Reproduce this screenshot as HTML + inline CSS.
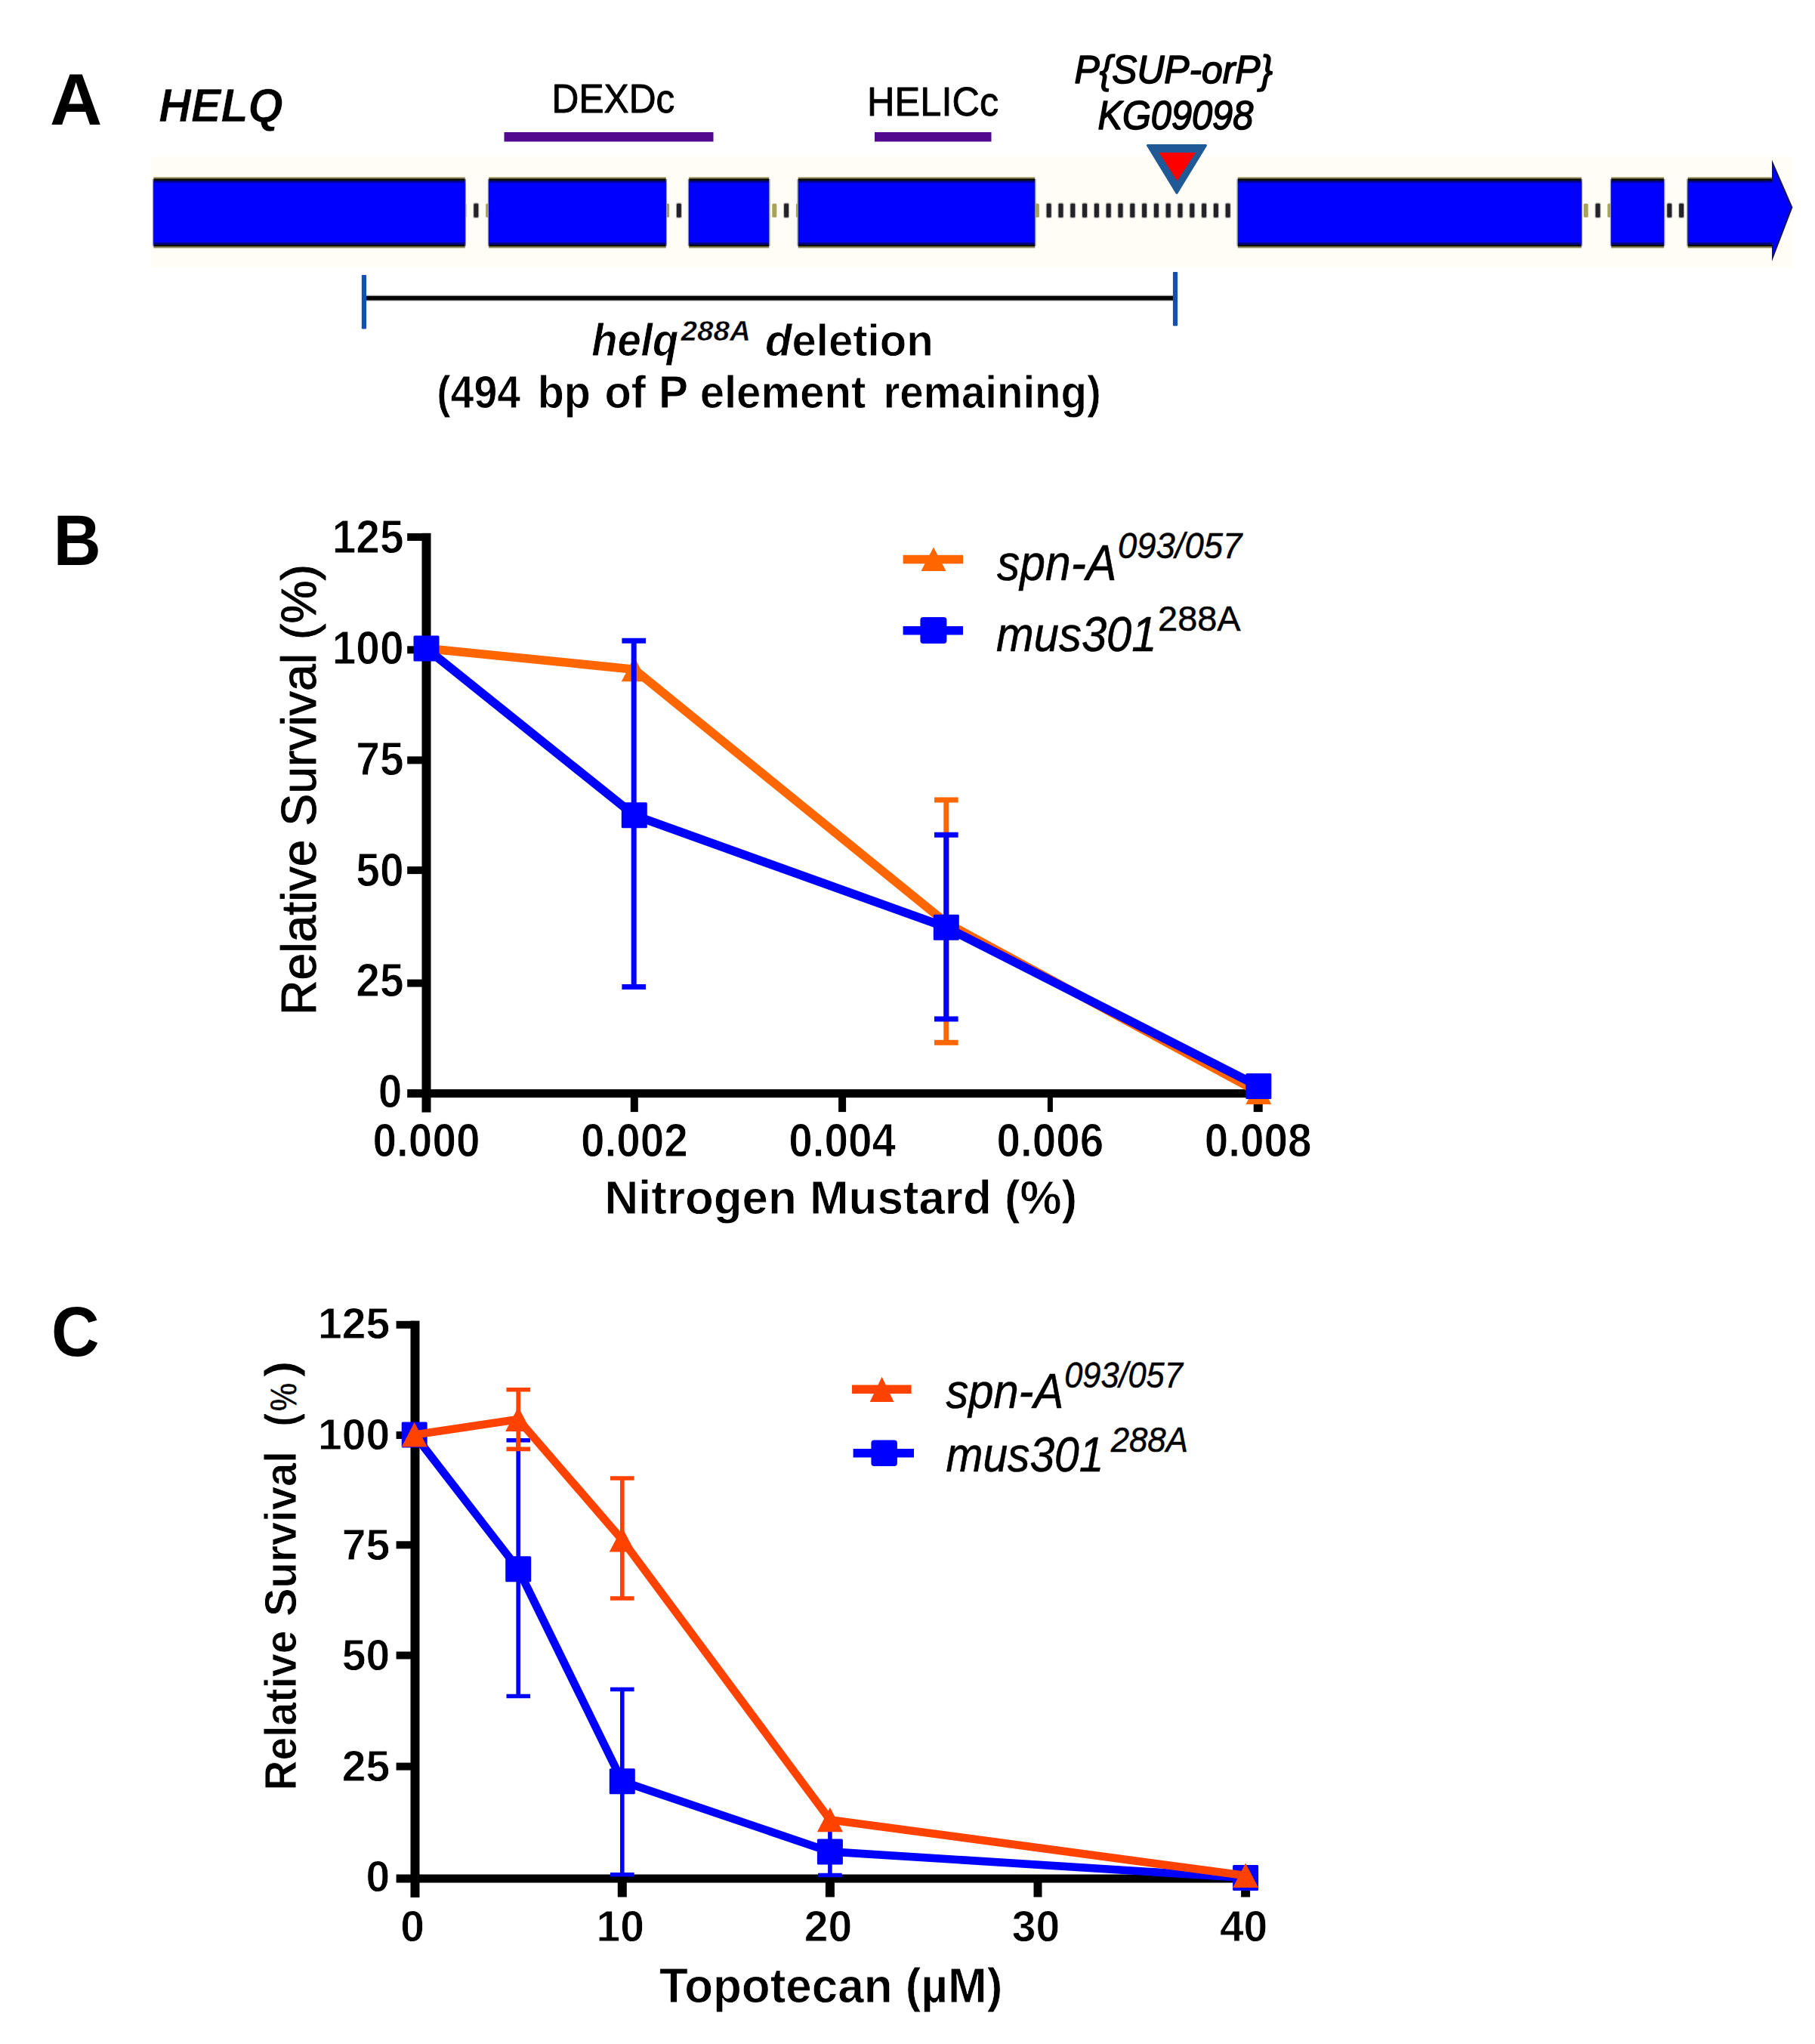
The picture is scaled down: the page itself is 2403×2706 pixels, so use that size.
<!DOCTYPE html>
<html lang="en"><head><meta charset="utf-8"><title>Figure</title>
<style>
html,body{margin:0;padding:0;background:#fff;}
body{width:2403px;height:2706px;overflow:hidden;}
svg{display:block;font-family:"Liberation Sans", sans-serif;}
</style></head><body>
<svg width="2403" height="2706" viewBox="0 0 2403 2706">
<rect width="2403" height="2706" fill="#fff"/>
<g id="panelA">
<rect x="200" y="207" width="2174" height="146.5" fill="#fffdf6"/>
<rect x="611.5" y="269.4" width="6.0" height="18.4" rx="1.5" fill="#a8a25c"/>
<rect x="627.3" y="269.4" width="6.0" height="18.4" rx="1.5" fill="#26262a"/>
<rect x="626.3" y="268.2" width="8.0" height="20.8" rx="2" fill="#1c1c20" fill-opacity="0.28"/>
<rect x="643.1" y="269.4" width="6.0" height="18.4" rx="1.5" fill="#a8a25c"/>
<rect x="880.1" y="269.4" width="6.0" height="18.4" rx="1.5" fill="#a8a25c"/>
<rect x="895.9" y="269.4" width="6.0" height="18.4" rx="1.5" fill="#26262a"/>
<rect x="894.9" y="268.2" width="8.0" height="20.8" rx="2" fill="#1c1c20" fill-opacity="0.28"/>
<rect x="911.7" y="269.4" width="6.0" height="18.4" rx="1.5" fill="#a8a25c"/>
<rect x="1022.3" y="269.4" width="6.0" height="18.4" rx="1.5" fill="#a8a25c"/>
<rect x="1038.1" y="269.4" width="6.0" height="18.4" rx="1.5" fill="#26262a"/>
<rect x="1037.1" y="268.2" width="8.0" height="20.8" rx="2" fill="#1c1c20" fill-opacity="0.28"/>
<rect x="1053.9" y="269.4" width="6.0" height="18.4" rx="1.5" fill="#a8a25c"/>
<rect x="1369.9" y="269.4" width="6.0" height="18.4" rx="1.5" fill="#a8a25c"/>
<rect x="1385.7" y="269.4" width="6.0" height="18.4" rx="1.5" fill="#26262a"/>
<rect x="1384.7" y="268.2" width="8.0" height="20.8" rx="2" fill="#1c1c20" fill-opacity="0.28"/>
<rect x="1401.5" y="269.4" width="6.0" height="18.4" rx="1.5" fill="#26262a"/>
<rect x="1400.5" y="268.2" width="8.0" height="20.8" rx="2" fill="#1c1c20" fill-opacity="0.28"/>
<rect x="1417.3" y="269.4" width="6.0" height="18.4" rx="1.5" fill="#26262a"/>
<rect x="1416.3" y="268.2" width="8.0" height="20.8" rx="2" fill="#1c1c20" fill-opacity="0.28"/>
<rect x="1433.1" y="269.4" width="6.0" height="18.4" rx="1.5" fill="#26262a"/>
<rect x="1432.1" y="268.2" width="8.0" height="20.8" rx="2" fill="#1c1c20" fill-opacity="0.28"/>
<rect x="1448.9" y="269.4" width="6.0" height="18.4" rx="1.5" fill="#26262a"/>
<rect x="1447.9" y="268.2" width="8.0" height="20.8" rx="2" fill="#1c1c20" fill-opacity="0.28"/>
<rect x="1464.7" y="269.4" width="6.0" height="18.4" rx="1.5" fill="#26262a"/>
<rect x="1463.7" y="268.2" width="8.0" height="20.8" rx="2" fill="#1c1c20" fill-opacity="0.28"/>
<rect x="1480.5" y="269.4" width="6.0" height="18.4" rx="1.5" fill="#26262a"/>
<rect x="1479.5" y="268.2" width="8.0" height="20.8" rx="2" fill="#1c1c20" fill-opacity="0.28"/>
<rect x="1496.3" y="269.4" width="6.0" height="18.4" rx="1.5" fill="#26262a"/>
<rect x="1495.3" y="268.2" width="8.0" height="20.8" rx="2" fill="#1c1c20" fill-opacity="0.28"/>
<rect x="1512.1" y="269.4" width="6.0" height="18.4" rx="1.5" fill="#26262a"/>
<rect x="1511.1" y="268.2" width="8.0" height="20.8" rx="2" fill="#1c1c20" fill-opacity="0.28"/>
<rect x="1527.9" y="269.4" width="6.0" height="18.4" rx="1.5" fill="#26262a"/>
<rect x="1526.9" y="268.2" width="8.0" height="20.8" rx="2" fill="#1c1c20" fill-opacity="0.28"/>
<rect x="1543.7" y="269.4" width="6.0" height="18.4" rx="1.5" fill="#26262a"/>
<rect x="1542.7" y="268.2" width="8.0" height="20.8" rx="2" fill="#1c1c20" fill-opacity="0.28"/>
<rect x="1559.5" y="269.4" width="6.0" height="18.4" rx="1.5" fill="#26262a"/>
<rect x="1558.5" y="268.2" width="8.0" height="20.8" rx="2" fill="#1c1c20" fill-opacity="0.28"/>
<rect x="1575.3" y="269.4" width="6.0" height="18.4" rx="1.5" fill="#26262a"/>
<rect x="1574.3" y="268.2" width="8.0" height="20.8" rx="2" fill="#1c1c20" fill-opacity="0.28"/>
<rect x="1591.1" y="269.4" width="6.0" height="18.4" rx="1.5" fill="#26262a"/>
<rect x="1590.1" y="268.2" width="8.0" height="20.8" rx="2" fill="#1c1c20" fill-opacity="0.28"/>
<rect x="1606.9" y="269.4" width="6.0" height="18.4" rx="1.5" fill="#26262a"/>
<rect x="1605.9" y="268.2" width="8.0" height="20.8" rx="2" fill="#1c1c20" fill-opacity="0.28"/>
<rect x="1622.7" y="269.4" width="6.0" height="18.4" rx="1.5" fill="#26262a"/>
<rect x="1621.7" y="268.2" width="8.0" height="20.8" rx="2" fill="#1c1c20" fill-opacity="0.28"/>
<rect x="1638.5" y="269.4" width="6.0" height="18.4" rx="1.5" fill="#a8a25c"/>
<rect x="2096.7" y="269.4" width="6.0" height="18.4" rx="1.5" fill="#a8a25c"/>
<rect x="2112.5" y="269.4" width="6.0" height="18.4" rx="1.5" fill="#26262a"/>
<rect x="2111.5" y="268.2" width="8.0" height="20.8" rx="2" fill="#1c1c20" fill-opacity="0.28"/>
<rect x="2128.3" y="269.4" width="6.0" height="18.4" rx="1.5" fill="#a8a25c"/>
<rect x="2207.3" y="269.4" width="6.0" height="18.4" rx="1.5" fill="#26262a"/>
<rect x="2206.3" y="268.2" width="8.0" height="20.8" rx="2" fill="#1c1c20" fill-opacity="0.28"/>
<rect x="2223.1" y="269.4" width="6.0" height="18.4" rx="1.5" fill="#26262a"/>
<rect x="2222.1" y="268.2" width="8.0" height="20.8" rx="2" fill="#1c1c20" fill-opacity="0.28"/>
<rect x="202.0" y="237" width="415.0" height="88.7" fill="#8f8fd4"/>
<rect x="203.3" y="234.6" width="412.4" height="93.8" fill="#8d8856"/>
<rect x="203.6" y="236.6" width="411.8" height="89.6" fill="#0a0a08"/>
<rect x="203.6" y="239.2" width="411.8" height="84.6" fill="#00008c"/>
<rect x="203.6" y="241.7" width="411.8" height="79.2" fill="#0000ff"/>
<rect x="645.8" y="237" width="237.3" height="88.7" fill="#8f8fd4"/>
<rect x="647.1" y="234.6" width="234.7" height="93.8" fill="#8d8856"/>
<rect x="647.4" y="236.6" width="234.1" height="89.6" fill="#0a0a08"/>
<rect x="647.4" y="239.2" width="234.1" height="84.6" fill="#00008c"/>
<rect x="647.4" y="241.7" width="234.1" height="79.2" fill="#0000ff"/>
<rect x="910.8" y="237" width="108.8" height="88.7" fill="#8f8fd4"/>
<rect x="912.1" y="234.6" width="106.2" height="93.8" fill="#8d8856"/>
<rect x="912.4" y="236.6" width="105.6" height="89.6" fill="#0a0a08"/>
<rect x="912.4" y="239.2" width="105.6" height="84.6" fill="#00008c"/>
<rect x="912.4" y="241.7" width="105.6" height="79.2" fill="#0000ff"/>
<rect x="1055.4" y="237" width="316.2" height="88.7" fill="#8f8fd4"/>
<rect x="1056.7" y="234.6" width="313.6" height="93.8" fill="#8d8856"/>
<rect x="1057.0" y="236.6" width="313.0" height="89.6" fill="#0a0a08"/>
<rect x="1057.0" y="239.2" width="313.0" height="84.6" fill="#00008c"/>
<rect x="1057.0" y="241.7" width="313.0" height="79.2" fill="#0000ff"/>
<rect x="1637.4" y="237" width="457.7" height="88.7" fill="#8f8fd4"/>
<rect x="1638.7" y="234.6" width="455.1" height="93.8" fill="#8d8856"/>
<rect x="1639.0" y="236.6" width="454.5" height="89.6" fill="#0a0a08"/>
<rect x="1639.0" y="239.2" width="454.5" height="84.6" fill="#00008c"/>
<rect x="1639.0" y="241.7" width="454.5" height="79.2" fill="#0000ff"/>
<rect x="2131.8" y="237" width="72.6" height="88.7" fill="#8f8fd4"/>
<rect x="2133.1" y="234.6" width="70.0" height="93.8" fill="#8d8856"/>
<rect x="2133.4" y="236.6" width="69.4" height="89.6" fill="#0a0a08"/>
<rect x="2133.4" y="239.2" width="69.4" height="84.6" fill="#00008c"/>
<rect x="2133.4" y="241.7" width="69.4" height="79.2" fill="#0000ff"/>
<rect x="2233.2" y="237" width="115.9" height="88.7" fill="#8f8fd4"/>
<rect x="2234.5" y="234.6" width="113.3" height="93.8" fill="#8d8856"/>
<rect x="2234.8" y="236.6" width="112.7" height="89.6" fill="#0a0a08"/>
<rect x="2234.8" y="239.2" width="112.7" height="84.6" fill="#00008c"/>
<rect x="2234.8" y="241.7" width="112.7" height="79.2" fill="#0000ff"/>
<polygon points="2346,211.5 2373.4,274.5 2346,346" fill="#15155a"/>
<polygon points="2347.2,219 2371,274.5 2347.2,338" fill="#0000ff"/>
<rect x="2340" y="241.7" width="10" height="79.2" fill="#0000ff"/>
<rect x="667.5" y="175" width="277" height="12.5" fill="#52088f"/>
<rect x="1158" y="175" width="154.5" height="12.5" fill="#52088f"/>
<polygon points="1519.5,192.5 1596.5,192.5 1558,255.5" fill="#1f5a96" stroke="#1f5a96" stroke-width="3" stroke-linejoin="round"/>
<polygon points="1534.5,202 1583,202 1558.5,239.5" fill="#ff0000"/>
<rect x="483" y="390.6" width="1072" height="8" fill="#000" fill-opacity="0.3"/>
<rect x="483" y="391.9" width="1072" height="5.6" fill="#050505"/>
<rect x="478.8" y="364" width="6.2" height="71.6" rx="1" fill="#1450b0"/>
<rect x="1552.9" y="360" width="6.2" height="71.6" rx="1" fill="#1450b0"/>
<text x="65.95" y="165" font-size="96" font-weight="bold" font-style="normal" text-anchor="start" fill="#000" textLength="69.26" lengthAdjust="spacingAndGlyphs">A</text>
<text x="210.37" y="161.2" font-size="62.5" font-weight="bold" font-style="italic" text-anchor="start" fill="#000" textLength="164.2" lengthAdjust="spacingAndGlyphs" stroke="#fff" stroke-width="0.4" stroke-linejoin="round">HELQ</text>
<text x="730.58" y="148.6" font-size="53.5" font-weight="normal" font-style="normal" text-anchor="start" fill="#000" textLength="162.75" lengthAdjust="spacingAndGlyphs" stroke="#000" stroke-width="0.9" stroke-linejoin="round">DEXDc</text>
<text x="1148.11" y="152.8" font-size="53.5" font-weight="normal" font-style="normal" text-anchor="start" fill="#000" textLength="174.05" lengthAdjust="spacingAndGlyphs" stroke="#000" stroke-width="0.9" stroke-linejoin="round">HELICc</text>
<text x="1422.48" y="109.6" font-size="51.5" font-weight="normal" font-style="italic" text-anchor="start" fill="#000" textLength="262.65" lengthAdjust="spacingAndGlyphs" stroke="#000" stroke-width="1.6" stroke-linejoin="round">P{SUP-orP}</text>
<text x="1453.51" y="171.4" font-size="53" font-weight="normal" font-style="italic" text-anchor="start" fill="#000" textLength="205.76" lengthAdjust="spacingAndGlyphs" stroke="#000" stroke-width="1.6" stroke-linejoin="round">KG09098</text>
<text x="783.15" y="471" font-size="61" font-weight="bold" font-style="italic" text-anchor="start" fill="#000" textLength="115.22" lengthAdjust="spacingAndGlyphs" stroke="#fff" stroke-width="0.8" stroke-linejoin="round">helq</text>
<text x="901.57" y="450.6" font-size="37" font-weight="bold" font-style="italic" text-anchor="start" fill="#000" textLength="92.27" lengthAdjust="spacingAndGlyphs" stroke="#fff" stroke-width="0.5" stroke-linejoin="round">288A</text>
<text x="1013.12" y="471" font-size="60" font-weight="bold" stroke="#fff" stroke-width="0.8" textLength="222.48" lengthAdjust="spacingAndGlyphs"><tspan font-style="italic">d</tspan>eletion</text>
<text x="578.15" y="540" font-size="60.5" font-weight="bold" font-style="normal" text-anchor="start" fill="#000" textLength="111.02" lengthAdjust="spacingAndGlyphs" stroke="#fff" stroke-width="0.8" stroke-linejoin="round">(494</text>
<text x="711.63" y="540" font-size="60.5" font-weight="bold" font-style="normal" text-anchor="start" fill="#000" textLength="70.31" lengthAdjust="spacingAndGlyphs" stroke="#fff" stroke-width="0.8" stroke-linejoin="round">bp</text>
<text x="800.45" y="540" font-size="60.5" font-weight="bold" font-style="normal" text-anchor="start" fill="#000" textLength="54.53" lengthAdjust="spacingAndGlyphs" stroke="#fff" stroke-width="0.8" stroke-linejoin="round">of</text>
<text x="872.0" y="540" font-size="60.5" font-weight="bold" font-style="normal" text-anchor="start" fill="#000" textLength="39.09" lengthAdjust="spacingAndGlyphs" stroke="#fff" stroke-width="0.8" stroke-linejoin="round">P</text>
<text x="926.63" y="540" font-size="60.5" font-weight="bold" font-style="normal" text-anchor="start" fill="#000" textLength="219.65" lengthAdjust="spacingAndGlyphs" stroke="#fff" stroke-width="0.8" stroke-linejoin="round">element</text>
<text x="1169.4" y="540" font-size="60.5" font-weight="bold" font-style="normal" text-anchor="start" fill="#000" textLength="288.38" lengthAdjust="spacingAndGlyphs" stroke="#fff" stroke-width="0.8" stroke-linejoin="round">remaining)</text>
</g>
<g id="panelB">
<text x="70.71" y="747.8" font-size="95" font-weight="bold" font-style="normal" text-anchor="start" fill="#000" textLength="62.93" lengthAdjust="spacingAndGlyphs">B</text>
<rect x="558.5" y="705.8" width="12" height="766.8" fill="#000"/>
<rect x="539.2" y="1442.1" width="1131.5" height="11" fill="#000"/>
<rect x="539.2" y="1296.6" width="25.3" height="10" fill="#000"/>
<rect x="539.2" y="1147.1" width="25.3" height="10" fill="#000"/>
<rect x="539.2" y="1001.4" width="25.3" height="10" fill="#000"/>
<rect x="539.2" y="855.3" width="25.3" height="10" fill="#000"/>
<rect x="539.2" y="706.0" width="25.3" height="10" fill="#000"/>
<rect x="834.8" y="1447.6" width="10" height="24.5" fill="#000"/>
<rect x="1110.1" y="1447.6" width="10" height="24.5" fill="#000"/>
<rect x="1386.9" y="1447.6" width="7" height="24.5" fill="#000"/>
<rect x="1659.7" y="1447.6" width="12" height="24.5" fill="#000"/>
<path d="M1252.8 1059V1380.3M1237.0 1059h31.6M1237.0 1380.3h31.6" stroke="#ff6600" stroke-width="7" fill="none"/>
<polyline points="564.5,858.5 839.8,886.2 1252.8,1221.8 1666.3,1446.0" fill="none" stroke="#ff6600" stroke-width="11.5" stroke-linejoin="round"/>
<polygon points="547.5,874.5 581.5,874.5 564.5,842.0" fill="#ff6600"/>
<polygon points="822.8,902.2 856.8,902.2 839.8,869.7" fill="#ff6600"/>
<polygon points="1235.8,1237.8 1269.8,1237.8 1252.8,1205.3" fill="#ff6600"/>
<polygon points="1649.3,1462.0 1683.3,1462.0 1666.3,1429.5" fill="#ff6600"/>
<path d="M839.2 848.3V1306.6M823.4 848.3h31.6M823.4 1306.6h31.6" stroke="#0000ff" stroke-width="7" fill="none"/>
<path d="M1252.8 1105.3V1349M1237.0 1105.3h31.6M1237.0 1349h31.6" stroke="#0000ff" stroke-width="7" fill="none"/>
<polyline points="564.5,858.5 839.8,1079.3 1252.8,1227.7 1666.3,1438.1" fill="none" stroke="#0000ff" stroke-width="11.5" stroke-linejoin="round"/>
<rect x="547.5" y="841.5" width="34" height="34" rx="1.5" fill="#0000ff"/>
<rect x="822.8" y="1062.3" width="34" height="34" rx="1.5" fill="#0000ff"/>
<rect x="1235.8" y="1210.7" width="34" height="34" rx="1.5" fill="#0000ff"/>
<rect x="1649.3" y="1421.1" width="34" height="34" rx="1.5" fill="#0000ff"/>
<text transform="translate(534.6,732.3) scale(0.903,1)" font-size="63" font-weight="bold" font-style="normal" text-anchor="end" fill="#000" stroke="#fff" stroke-width="1.0" stroke-linejoin="round">125</text>
<text transform="translate(534.6,879.1) scale(0.903,1)" font-size="63" font-weight="bold" font-style="normal" text-anchor="end" fill="#000" stroke="#fff" stroke-width="1.0" stroke-linejoin="round">100</text>
<text transform="translate(534.6,1025.8) scale(0.903,1)" font-size="63" font-weight="bold" font-style="normal" text-anchor="end" fill="#000" stroke="#fff" stroke-width="1.0" stroke-linejoin="round">75</text>
<text transform="translate(534.6,1172.5) scale(0.903,1)" font-size="63" font-weight="bold" font-style="normal" text-anchor="end" fill="#000" stroke="#fff" stroke-width="1.0" stroke-linejoin="round">50</text>
<text transform="translate(534.6,1319.3) scale(0.903,1)" font-size="63" font-weight="bold" font-style="normal" text-anchor="end" fill="#000" stroke="#fff" stroke-width="1.0" stroke-linejoin="round">25</text>
<text transform="translate(532.4,1466.0) scale(0.903,1)" font-size="63" font-weight="bold" font-style="normal" text-anchor="end" fill="#000" stroke="#fff" stroke-width="1.0" stroke-linejoin="round">0</text>
<text transform="translate(564.5,1531.4) scale(0.9,1)" font-size="63" font-weight="bold" font-style="normal" text-anchor="middle" fill="#000" stroke="#fff" stroke-width="1.0" stroke-linejoin="round">0.000</text>
<text transform="translate(839.8,1531.4) scale(0.9,1)" font-size="63" font-weight="bold" font-style="normal" text-anchor="middle" fill="#000" stroke="#fff" stroke-width="1.0" stroke-linejoin="round">0.002</text>
<text transform="translate(1115.1,1531.4) scale(0.9,1)" font-size="63" font-weight="bold" font-style="normal" text-anchor="middle" fill="#000" stroke="#fff" stroke-width="1.0" stroke-linejoin="round">0.004</text>
<text transform="translate(1390.4,1531.4) scale(0.9,1)" font-size="63" font-weight="bold" font-style="normal" text-anchor="middle" fill="#000" stroke="#fff" stroke-width="1.0" stroke-linejoin="round">0.006</text>
<text transform="translate(1665.7,1531.4) scale(0.9,1)" font-size="63" font-weight="bold" font-style="normal" text-anchor="middle" fill="#000" stroke="#fff" stroke-width="1.0" stroke-linejoin="round">0.008</text>
<text x="800.38" y="1607.2" font-size="63.5" font-weight="bold" font-style="normal" text-anchor="start" fill="#000" textLength="625.87" lengthAdjust="spacingAndGlyphs" stroke="#fff" stroke-width="0.8" stroke-linejoin="round">Nitrogen Mustard (%)</text>
<text transform="translate(417.8,1344) rotate(-90)" font-size="64.5" font-weight="normal" textLength="597" lengthAdjust="spacingAndGlyphs" stroke="#000" stroke-width="0.9" stroke-linejoin="round">Relative Survival (%)</text>
<rect x="1195.6" y="734.8" width="79.4" height="11.5" fill="#ff6600"/>
<polygon points="1219.4,756 1252.5,756 1236,724.6" fill="#ff6600"/>
<rect x="1195.6" y="829" width="79.4" height="11.5" fill="#0000ff"/>
<rect x="1218.4" y="817" width="35" height="35" rx="4" fill="#0000ff"/>
<text x="1319.98" y="768.3" font-size="66" font-weight="normal" font-style="italic" text-anchor="start" fill="#000" textLength="158.35" lengthAdjust="spacingAndGlyphs" stroke="#000" stroke-width="0.6" stroke-linejoin="round">spn-A</text>
<text x="1480.1" y="739.2" font-size="48" font-weight="normal" font-style="italic" text-anchor="start" fill="#000" textLength="164.06" lengthAdjust="spacingAndGlyphs" stroke="#000" stroke-width="0.5" stroke-linejoin="round">093/057</text>
<text x="1319.11" y="862.2" font-size="64" font-weight="normal" font-style="italic" text-anchor="start" fill="#000" textLength="212.41" lengthAdjust="spacingAndGlyphs" stroke="#000" stroke-width="0.6" stroke-linejoin="round">mus301</text>
<text x="1533.11" y="835.1" font-size="46" font-weight="normal" font-style="normal" text-anchor="start" fill="#000" textLength="109.51" lengthAdjust="spacingAndGlyphs" stroke="#000" stroke-width="0.5" stroke-linejoin="round">288A</text>
</g>
<g id="panelC">
<text x="67.99" y="1795" font-size="93.5" font-weight="bold" font-style="normal" text-anchor="start" fill="#000" textLength="63.6" lengthAdjust="spacingAndGlyphs">C</text>
<rect x="543.5" y="1748.6" width="12" height="763.4" fill="#000"/>
<rect x="524.6" y="2481.5" width="1129.5" height="11" fill="#000"/>
<rect x="524.6" y="2333.6" width="24.9" height="10" fill="#000"/>
<rect x="524.6" y="2186.5" width="24.9" height="10" fill="#000"/>
<rect x="524.6" y="2040.3" width="24.9" height="10" fill="#000"/>
<rect x="524.6" y="1895.0" width="24.9" height="10" fill="#000"/>
<rect x="524.6" y="1748.8" width="24.9" height="10" fill="#000"/>
<rect x="817.8" y="2487" width="12" height="24.5" fill="#000"/>
<rect x="1092.9" y="2487" width="12" height="24.5" fill="#000"/>
<rect x="1368.5" y="2487" width="11" height="24.5" fill="#000"/>
<rect x="1643.1" y="2487" width="12" height="24.5" fill="#000"/>
<path d="M686.2 1906.8V2245.5M670.5 1906.8h31.6M670.5 2245.5h31.6" stroke="#0000ff" stroke-width="5.6" fill="none"/>
<path d="M823.8 2236.5V2481.8M808.0 2236.5h31.6M808.0 2481.8h31.6" stroke="#0000ff" stroke-width="5.6" fill="none"/>
<path d="M1098.9 2418V2482.5M1083.1 2482.5h31.6" stroke="#0000ff" stroke-width="5.6" fill="none"/>
<polyline points="548.7,1899.6 686.2,2077.3 823.8,2358.2 1098.9,2451.4 1649.1,2486.0" fill="none" stroke="#0000ff" stroke-width="10.6" stroke-linejoin="round"/>
<rect x="531.7" y="1882.6" width="34" height="34" rx="1.5" fill="#0000ff"/>
<rect x="669.2" y="2060.3" width="34" height="34" rx="1.5" fill="#0000ff"/>
<rect x="806.8" y="2341.2" width="34" height="34" rx="1.5" fill="#0000ff"/>
<rect x="1081.9" y="2434.4" width="34" height="34" rx="1.5" fill="#0000ff"/>
<rect x="1632.1" y="2469.0" width="34" height="34" rx="1.5" fill="#0000ff"/>
<path d="M686.2 1839.8V1918.4M670.5 1839.8h31.6M670.5 1918.4h31.6" stroke="#ff4200" stroke-width="5.6" fill="none"/>
<path d="M823.8 1957V2116M808.0 1957h31.6M808.0 2116h31.6" stroke="#ff4200" stroke-width="5.6" fill="none"/>
<polyline points="548.7,1899.6 686.2,1879.1 823.8,2038.6 1098.9,2409.2 1649.1,2483.1" fill="none" stroke="#ff4200" stroke-width="10.6" stroke-linejoin="round"/>
<polygon points="531.7,1915.6 565.7,1915.6 548.7,1883.1" fill="#ff4200"/>
<polygon points="669.2,1895.1 703.2,1895.1 686.2,1862.6" fill="#ff4200"/>
<polygon points="806.8,2054.6 840.8,2054.6 823.8,2022.1" fill="#ff4200"/>
<polygon points="1081.9,2425.2 1115.9,2425.2 1098.9,2392.7" fill="#ff4200"/>
<polygon points="1632.1,2499.1 1666.1,2499.1 1649.1,2466.6" fill="#ff4200"/>
<text x="516.2" y="1772.3" font-size="57" font-weight="bold" font-style="normal" text-anchor="end" fill="#000" stroke="#fff" stroke-width="0.8" stroke-linejoin="round">125</text>
<text x="516.2" y="1918.6" font-size="57" font-weight="bold" font-style="normal" text-anchor="end" fill="#000" stroke="#fff" stroke-width="0.8" stroke-linejoin="round">100</text>
<text x="516.2" y="2064.9" font-size="57" font-weight="bold" font-style="normal" text-anchor="end" fill="#000" stroke="#fff" stroke-width="0.8" stroke-linejoin="round">75</text>
<text x="516.2" y="2211.2" font-size="57" font-weight="bold" font-style="normal" text-anchor="end" fill="#000" stroke="#fff" stroke-width="0.8" stroke-linejoin="round">50</text>
<text x="516.2" y="2357.5" font-size="57" font-weight="bold" font-style="normal" text-anchor="end" fill="#000" stroke="#fff" stroke-width="0.8" stroke-linejoin="round">25</text>
<text x="516.2" y="2503.8" font-size="57" font-weight="bold" font-style="normal" text-anchor="end" fill="#000" stroke="#fff" stroke-width="0.8" stroke-linejoin="round">0</text>
<text x="546.2" y="2569.5" font-size="57" font-weight="bold" font-style="normal" text-anchor="middle" fill="#000" stroke="#fff" stroke-width="0.8" stroke-linejoin="round">0</text>
<text x="821.3" y="2569.5" font-size="57" font-weight="bold" font-style="normal" text-anchor="middle" fill="#000" stroke="#fff" stroke-width="0.8" stroke-linejoin="round">10</text>
<text x="1096.4" y="2569.5" font-size="57" font-weight="bold" font-style="normal" text-anchor="middle" fill="#000" stroke="#fff" stroke-width="0.8" stroke-linejoin="round">20</text>
<text x="1371.5" y="2569.5" font-size="57" font-weight="bold" font-style="normal" text-anchor="middle" fill="#000" stroke="#fff" stroke-width="0.8" stroke-linejoin="round">30</text>
<text x="1646.6" y="2569.5" font-size="57" font-weight="bold" font-style="normal" text-anchor="middle" fill="#000" stroke="#fff" stroke-width="0.8" stroke-linejoin="round">40</text>
<text x="872.92" y="2651.2" font-size="64" font-weight="bold" font-style="normal" text-anchor="start" fill="#000" textLength="454.35" lengthAdjust="spacingAndGlyphs" stroke="#fff" stroke-width="0.8" stroke-linejoin="round">Topotecan (µM)</text>
<text transform="translate(392.4,2370.5) rotate(-90)" font-size="59" font-weight="bold" textLength="212" lengthAdjust="spacingAndGlyphs" stroke="#fff" stroke-width="0.8" stroke-linejoin="round">Relative</text>
<text transform="translate(392.4,2140) rotate(-90)" font-size="59" font-weight="bold" textLength="219" lengthAdjust="spacingAndGlyphs" stroke="#fff" stroke-width="0.8" stroke-linejoin="round">Survival</text>
<text transform="translate(392.4,1889) rotate(-90)" font-size="59" font-weight="bold" textLength="19" lengthAdjust="spacingAndGlyphs" stroke="#fff" stroke-width="1.2" stroke-linejoin="round">(</text>
<text transform="translate(392.8,1868.5) rotate(-90)" font-size="50" font-weight="bold" textLength="38" lengthAdjust="spacingAndGlyphs" stroke="#fff" stroke-width="0.8" stroke-linejoin="round">%</text>
<text transform="translate(392.4,1823.5) rotate(-90)" font-size="59" font-weight="bold" textLength="22" lengthAdjust="spacingAndGlyphs" stroke="#fff" stroke-width="0.8" stroke-linejoin="round">)</text>
<rect x="1128" y="1833.5" width="78.6" height="11.5" fill="#ff4200"/>
<polygon points="1151.7,1855.9 1183.5,1855.9 1167.6,1822.8" fill="#ff4200"/>
<rect x="1129.6" y="1918" width="80.4" height="11.5" fill="#0000ff"/>
<rect x="1153.4" y="1906.4" width="34.5" height="34.5" rx="4" fill="#0000ff"/>
<text x="1252.38" y="1863.7" font-size="64" font-weight="normal" font-style="italic" text-anchor="start" fill="#000" textLength="155.9" lengthAdjust="spacingAndGlyphs" stroke="#000" stroke-width="0.6" stroke-linejoin="round">spn-A</text>
<text x="1409.19" y="1837.4" font-size="48" font-weight="normal" font-style="italic" text-anchor="start" fill="#000" textLength="156.63" lengthAdjust="spacingAndGlyphs" stroke="#000" stroke-width="0.5" stroke-linejoin="round">093/057</text>
<text x="1252.53" y="1947.5" font-size="64" font-weight="normal" font-style="italic" text-anchor="start" fill="#000" textLength="208.91" lengthAdjust="spacingAndGlyphs" stroke="#000" stroke-width="0.6" stroke-linejoin="round">mus301</text>
<text x="1470.71" y="1921.7" font-size="46" font-weight="normal" font-style="italic" text-anchor="start" fill="#000" textLength="102.18" lengthAdjust="spacingAndGlyphs" stroke="#000" stroke-width="0.5" stroke-linejoin="round">288A</text>
</g>
</svg></body></html>
